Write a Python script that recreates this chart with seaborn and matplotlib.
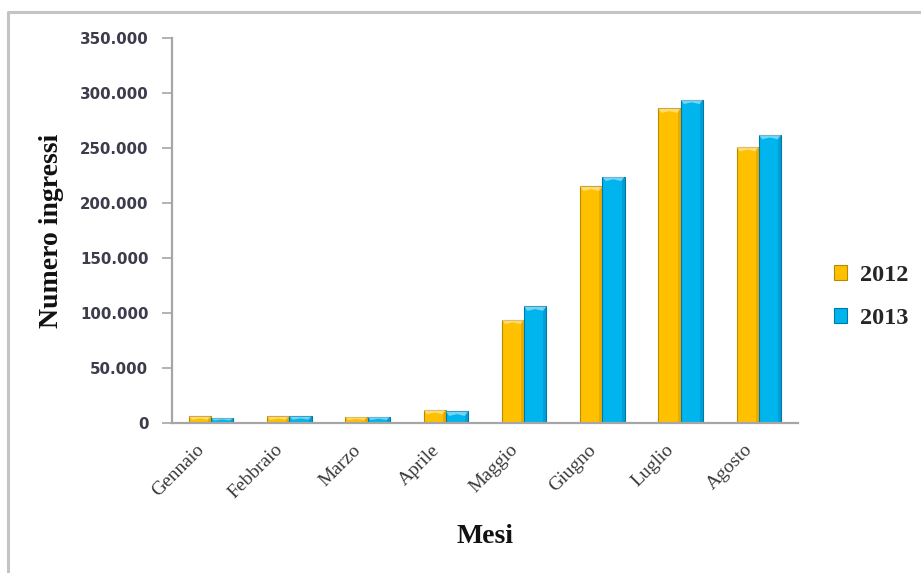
import numpy as np
import pandas as pd
import matplotlib
matplotlib.use("Agg")
import matplotlib.pyplot as plt
import matplotlib.transforms as mtransforms
from matplotlib.patches import Patch, Polygon, Rectangle
from matplotlib.lines import Line2D
from matplotlib.ticker import FuncFormatter, MultipleLocator
import seaborn as sns

# Monthly admissions, 2012 vs 2013
mesi = ["Gennaio", "Febbraio", "Marzo", "Aprile", "Maggio", "Giugno", "Luglio", "Agosto"]
ingressi_2012 = [6000, 6000, 5500, 12000, 94000, 215000, 286000, 251000]
ingressi_2013 = [4500, 6000, 5500, 10500, 106000, 224000, 294000, 262000]
anni = ["2012", "2013"]
colori = {"2012": "#FFC000", "2013": "#00B4EE"}
bordi = {"2012": "#B88A00", "2013": "#0078A8"}

df = pd.DataFrame({
    "Mese": mesi * 2,
    "Anno": [anni[0]] * len(mesi) + [anni[1]] * len(mesi),
    "Ingressi": ingressi_2012 + ingressi_2013,
})

sns.set_theme(style="white")
plt.rcParams["font.family"] = ["DejaVu Sans"]

W, H = 921, 573
fig = plt.figure(figsize=(W / 100, H / 100), dpi=100)
ax = fig.add_axes([172 / W, 1 - 423 / H, (798 - 172) / W, (423 - 38) / H])

sns.barplot(data=df, x="Mese", y="Ingressi", hue="Anno", order=mesi,
            hue_order=anni, palette=colori, width=0.57, dodge=True,
            saturation=1, legend=False, ax=ax, edgecolor="none")

ax.set_ylim(0, 350000)
ax.set_xlim(-0.5, len(mesi) - 0.5)

# bevelled look: darker outline, darker right strip, light chevron on top
px_per_unit_y = (423 - 38) / 350000
for container, anno in zip(ax.containers, anni):
    for bar in container:
        x0, w, h = bar.get_x(), bar.get_width(), bar.get_height()
        bar.set_edgecolor(bordi[anno])
        bar.set_linewidth(0.8)
        strip = Rectangle((x0 + w * 0.86, 0), w * 0.14, h,
                          facecolor=bordi[anno], alpha=0.35, lw=0, zorder=bar.get_zorder() + 0.1)
        ax.add_patch(strip)
        dh = min(4.5 / px_per_unit_y, h * 0.5)
        chev = Polygon([(x0, h), (x0 + w, h), (x0 + w * 0.85, h - dh),
                        (x0 + w * 0.5, h - dh * 0.6), (x0 + w * 0.15, h - dh)],
                       closed=True, facecolor="white", alpha=0.45, lw=0,
                       zorder=bar.get_zorder() + 0.2)
        ax.add_patch(chev)

# axes styling
for side in ["top", "right"]:
    ax.spines[side].set_visible(False)
for side in ["left", "bottom"]:
    ax.spines[side].set_color("#A6A6A6")
    ax.spines[side].set_linewidth(1.6)

ax.yaxis.set_major_locator(MultipleLocator(50000))
ax.yaxis.set_major_formatter(FuncFormatter(
    lambda v, p: "0" if v == 0 else f"{int(v):,}".replace(",", ".")))
ax.tick_params(axis="y", which="major", left=True, length=7, width=1.2,
               color="#A6A6A6", pad=10, labelsize=10.8, labelcolor="#3C3C4C")
for t in ax.get_yticklabels():
    t.set_fontweight("bold")

ax.tick_params(axis="x", which="major", bottom=False, pad=0)
offset = mtransforms.ScaledTranslation(-15 / 100, -10 / 100, fig.dpi_scale_trans)
ax.set_xticks(range(len(mesi)))
ax.set_xticklabels(mesi, rotation=45, ha="right", va="top", rotation_mode="anchor",
                   family="Liberation Serif", fontsize=14, color="#3A3A3A")
for t in ax.get_xticklabels():
    t.set_transform(t.get_transform() + offset)

ax.set_xlabel("Mesi", family="Liberation Serif", fontweight="bold", fontsize=20,
              color="#111111")
ax.xaxis.set_label_coords(0.5, -0.262)
ax.set_ylabel("Numero ingressi", family="Liberation Serif", fontweight="bold",
              fontsize=20, color="#111111")
ax.yaxis.set_label_coords(-0.172, 0.5)
ax.grid(False)

# legend
handles = [Patch(facecolor=colori[a], edgecolor=bordi[a], linewidth=0.8) for a in anni]
fig.legend(handles, anni, loc="center left", bbox_to_anchor=(834 / W, 1 - 297 / H),
           frameon=False, borderpad=0, borderaxespad=0,
           handlelength=0.55, handleheight=0.55, handletextpad=0.5,
           labelspacing=0.9, prop={"family": "Liberation Serif", "weight": "bold", "size": 17.5})

# outer frame (top and left edges)
fig.add_artist(Line2D([8 / W, 8 / W, 1.0], [0.0, 1 - 12 / H, 1 - 12 / H],
                      transform=fig.transFigure, color="#C4C4C4", lw=2.2))

fig.savefig("out.png", dpi=100, facecolor="white")
